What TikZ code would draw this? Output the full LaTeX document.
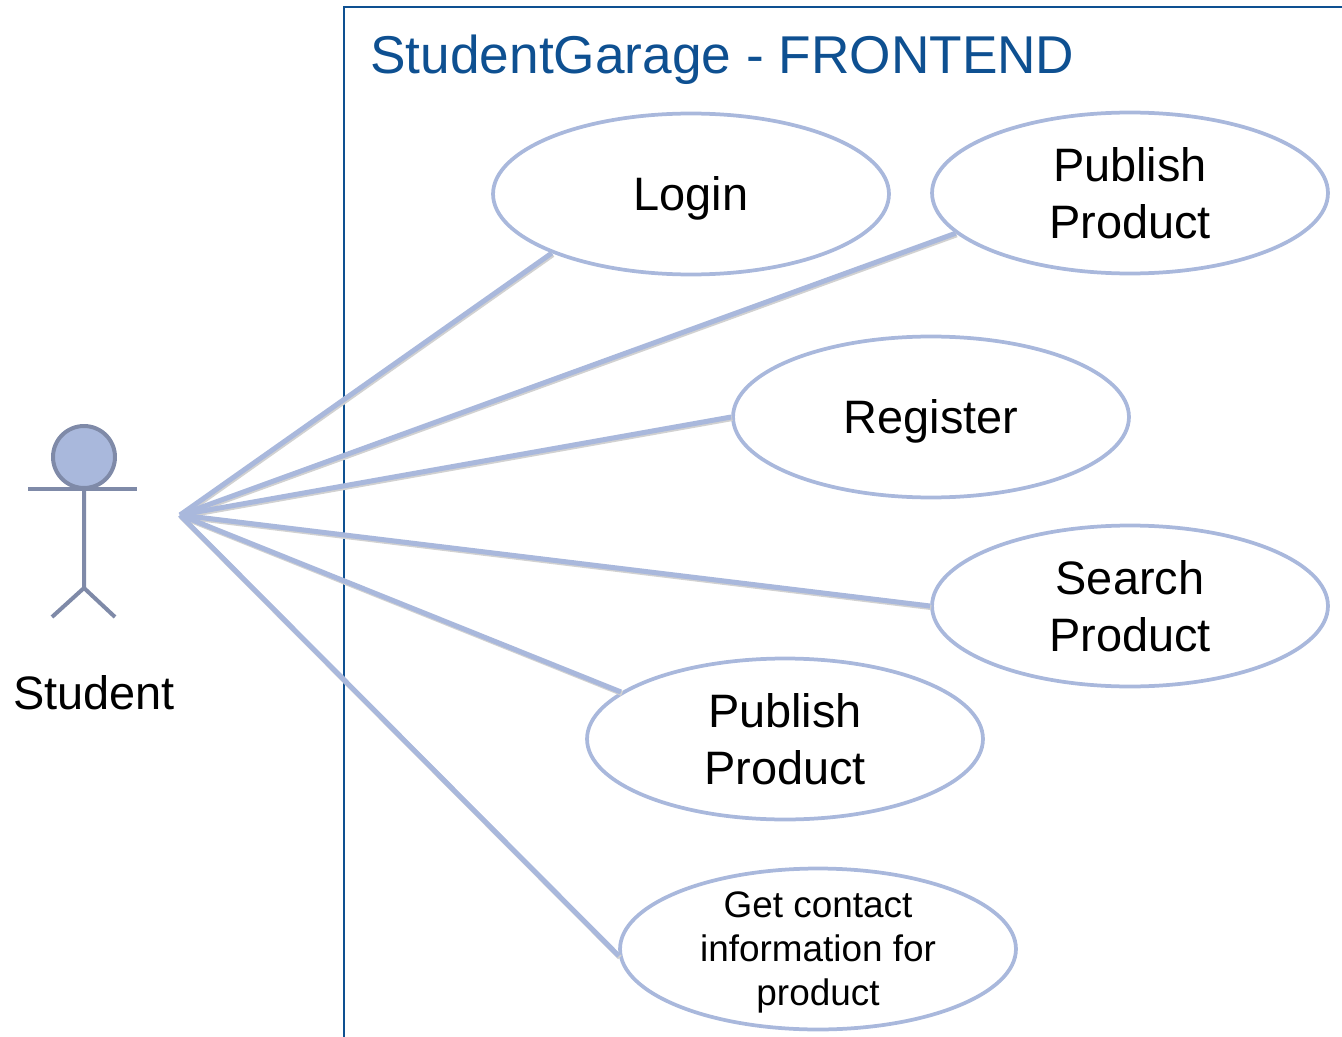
\documentclass[tikz,border=0pt]{standalone}
\usepackage{fontspec}
\setmainfont{Liberation Sans}
\usetikzlibrary{shapes.geometric}
\definecolor{ucline}{RGB}{169,184,220}
\definecolor{actorline}{RGB}{127,138,168}
\definecolor{frameblue}{RGB}{14,80,145}
\begin{document}
\begin{tikzpicture}[x=0.02cm,y=-0.02cm,
        usecase/.style={ellipse,draw=ucline,line width=0.075cm,minimum width=7.92cm,minimum height=3.22cm,inner sep=0pt,text depth=0pt,align=center,font=\fontsize{26.7}{32}\selectfont},
        smallcase/.style={usecase,font=\fontsize{21}{25}\selectfont},
        assoc/.style={draw=ucline,line width=0.1cm,preaction={draw=black!18,line width=0.1cm,transform canvas={shift={(0.6pt,-0.9pt)}}}}]
        \useasboundingbox (0,0) rectangle (1342,1037);
        % system boundary
        \draw [frameblue,line width=0.04cm] (344,1040) -- (344,7) -- (1345,7);
        \node[anchor=base west,inner sep=0pt,text=frameblue,font=\fontsize{30.3}{36}\selectfont] at (370,74) (title){StudentGarage - FRONTEND};
        % actor
        \filldraw [draw=actorline,fill=ucline,line width=0.08cm] (84,457) circle (0.62cm);
        \draw [actorline,line width=0.08cm] (28,489) -- (137,489);
        \draw [actorline,line width=0.08cm] (84,489) -- (84,588) -- (52,617);
        \draw [actorline,line width=0.08cm] (84,588) -- (115,617);
        \node[anchor=base,font=\fontsize{26.7}{32}\selectfont] at (94,709) (student){Student};
        \coordinate (hub) at (180,515);
        % use cases
        \node[usecase] at (691,194) (login){Login};
        \node[usecase] at (1130,193) (pubtop){Publish\\Product};
        \node[usecase] at (931,417) (register){Register};
        \node[usecase] at (1130,606) (search){Search\\Product};
        \node[usecase] at (785,739) (pubmid){Publish\\Product};
        \node[smallcase] at (818,949) (contact){Get contact\\information for\\product};
        % associations
        \draw [assoc] (hub) -- (login.203);
        \draw [assoc] (hub) -- (pubtop.193);
        \draw [assoc] (hub) -- (register.west);
        \draw [assoc] (hub) -- (search.west);
        \draw [assoc] (hub) -- (pubmid.164);
        \draw [assoc] (hub) -- (contact.182);
    \end{tikzpicture}
\end{document}
